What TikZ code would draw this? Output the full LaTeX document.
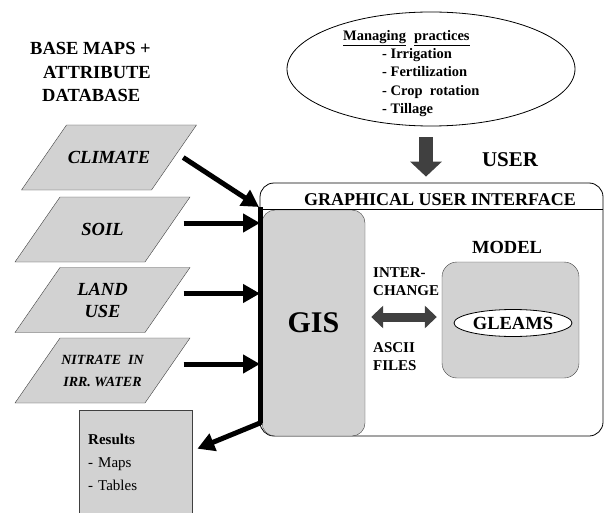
\documentclass[tikz,border=0pt]{standalone}
\usepackage{fontspec}
\setmainfont{Liberation Serif}
\usetikzlibrary{shapes.geometric,arrows.meta,positioning}

\begin{document}
\begin{tikzpicture}[x=1pt,y=-1pt,
    layer/.style={draw=black!75,fill=gray!35},
    layertext/.style={minimum width=130pt,minimum height=65pt,inner sep=0pt,align=center},
    greybox/.style={draw=black!75,fill=gray!35,rounded corners=13pt},
    label/.style={font=\fontsize{15}{18}\selectfont\bfseries,align=left,inner sep=0pt},
    maparrow/.style={line width=5pt,-{Triangle[length=17pt,width=18pt]}},
    fatarrow/.style={draw=black!75,line width=9pt}]
  \useasboundingbox (0,0) rectangle (604,513);

  % data layers
  \node[anchor=west,align=left,inner sep=0pt,font=\fontsize{18.5}{23.5}\selectfont\bfseries]
    (base) at (30,72) {BASE MAPS +\\\hspace*{13pt}ATTRIBUTE\\\hspace*{12pt}DATABASE};
  \foreach \name/\x/\y/\fs/\txt in {climate/109/157.5/18.5/CLIMATE,soil/102.5/229.5/18.5/SOIL,
      land/102.5/300/18.5/{LAND\\USE},
      nitrate/102.5/370.5/14/{NITRATE\ \ IN\\IRR. WATER}} {
    \draw[layer] (\x,\y) ++(-87.5,32.5) -- ++(130,0) -- ++(45,-65) -- ++(-130,0) -- cycle;
    \node[layertext,font=\fontsize{\fs}{22}\selectfont\bfseries\itshape] (\name) at (\x,\y) {\txt};
  }
  \node[draw=black!75,fill=gray!35,anchor=north west,minimum width=113pt,minimum height=104pt,
    text width=95pt,inner xsep=9pt,align=left,font=\fontsize{15}{23}\selectfont]
    (results) at (79,410) {\textbf{Results}\\- Maps\\- Tables};

  % user input
  \node[draw,ellipse,line width=0.8pt,minimum width=288pt,minimum height=114pt] (practices) at (431,69) {};
  \node[anchor=north west,align=left,inner sep=0pt,font=\fontsize{14.5}{18.3}\selectfont\bfseries]
    (practicestext) at (343,30)
    {\underline{Managing}\hspace{8pt}\underline{practices}\\
     \hspace*{39pt}- Irrigation\\\hspace*{39pt}- Fertilization\\
     \hspace*{39pt}- Crop\ \ rotation\\\hspace*{39pt}- Tillage};
  \node[font=\fontsize{21}{24}\selectfont\bfseries] (user) at (510,160) {USER};

  % interface
  \node[draw,line width=0.8pt,rounded corners=14pt,minimum width=343pt,minimum height=253pt] (gui) at (431.5,309.5) {};
  \node[font=\fontsize{18}{20}\selectfont\bfseries] (guititle) at (440,200) {GRAPHICAL USER INTERFACE};
  \node[greybox,minimum width=103pt,minimum height=226pt] (gis) at (313.5,323) {};
  \node[font=\fontsize{30}{32}\selectfont\bfseries] (gistext) at (gis) {GIS};
  \draw[line width=0.8pt] (gis.north west) -- (gis.north west -| gui.east);
  \node[greybox,rounded corners=15pt,minimum width=137pt,minimum height=116pt] (model) at (510.5,320) {};
  \node[font=\fontsize{18.5}{20}\selectfont\bfseries] (modeltext) at (507,247) {MODEL};
  \node[draw,fill=white,ellipse,line width=0.8pt,minimum width=118pt,minimum height=27pt,inner sep=0pt,
    font=\fontsize{18.5}{20}\selectfont\bfseries] (gleams) at (513,323) {GLEAMS};
  \node[label,anchor=west] (interchange) at (373,282) {INTER-\\CHANGE};
  \node[label,anchor=west] (ascii) at (373,357) {ASCII\\FILES};

  % connectors
  \coordinate (bustop) at (260,207);
  \coordinate (busend) at (260,423);
  \draw[line width=5pt] (bustop) -- (busend);
  \draw[maparrow] ([shift={(9pt,0pt)}]climate.east) -- ([xshift=-1pt]bustop);
  \foreach \layer in {soil,land,nitrate}
    \draw[maparrow] ([shift={(16pt,6.5pt)}]\layer.east) -- ([yshift=6.5pt]\layer.east -| bustop);
  \draw[maparrow,line cap=round] (busend) -- ([shift={(5pt,13.5pt)}]results.east);
  \draw[fatarrow,{Triangle[length=12pt,width=22pt]}-{Triangle[length=12pt,width=22pt]}]
    ([shift={(6pt,6pt)}]gis.east) -- ([shift={(-5pt,6pt)}]gis.east -| model.west);
  \draw[fatarrow,line width=14pt,-{Triangle[length=15pt,width=31pt]}]
    ([shift={(-5pt,-11pt)}]practices.south) -- ([shift={(-5pt,6pt)}]practices.south |- gui.north);
\end{tikzpicture}
\end{document}
